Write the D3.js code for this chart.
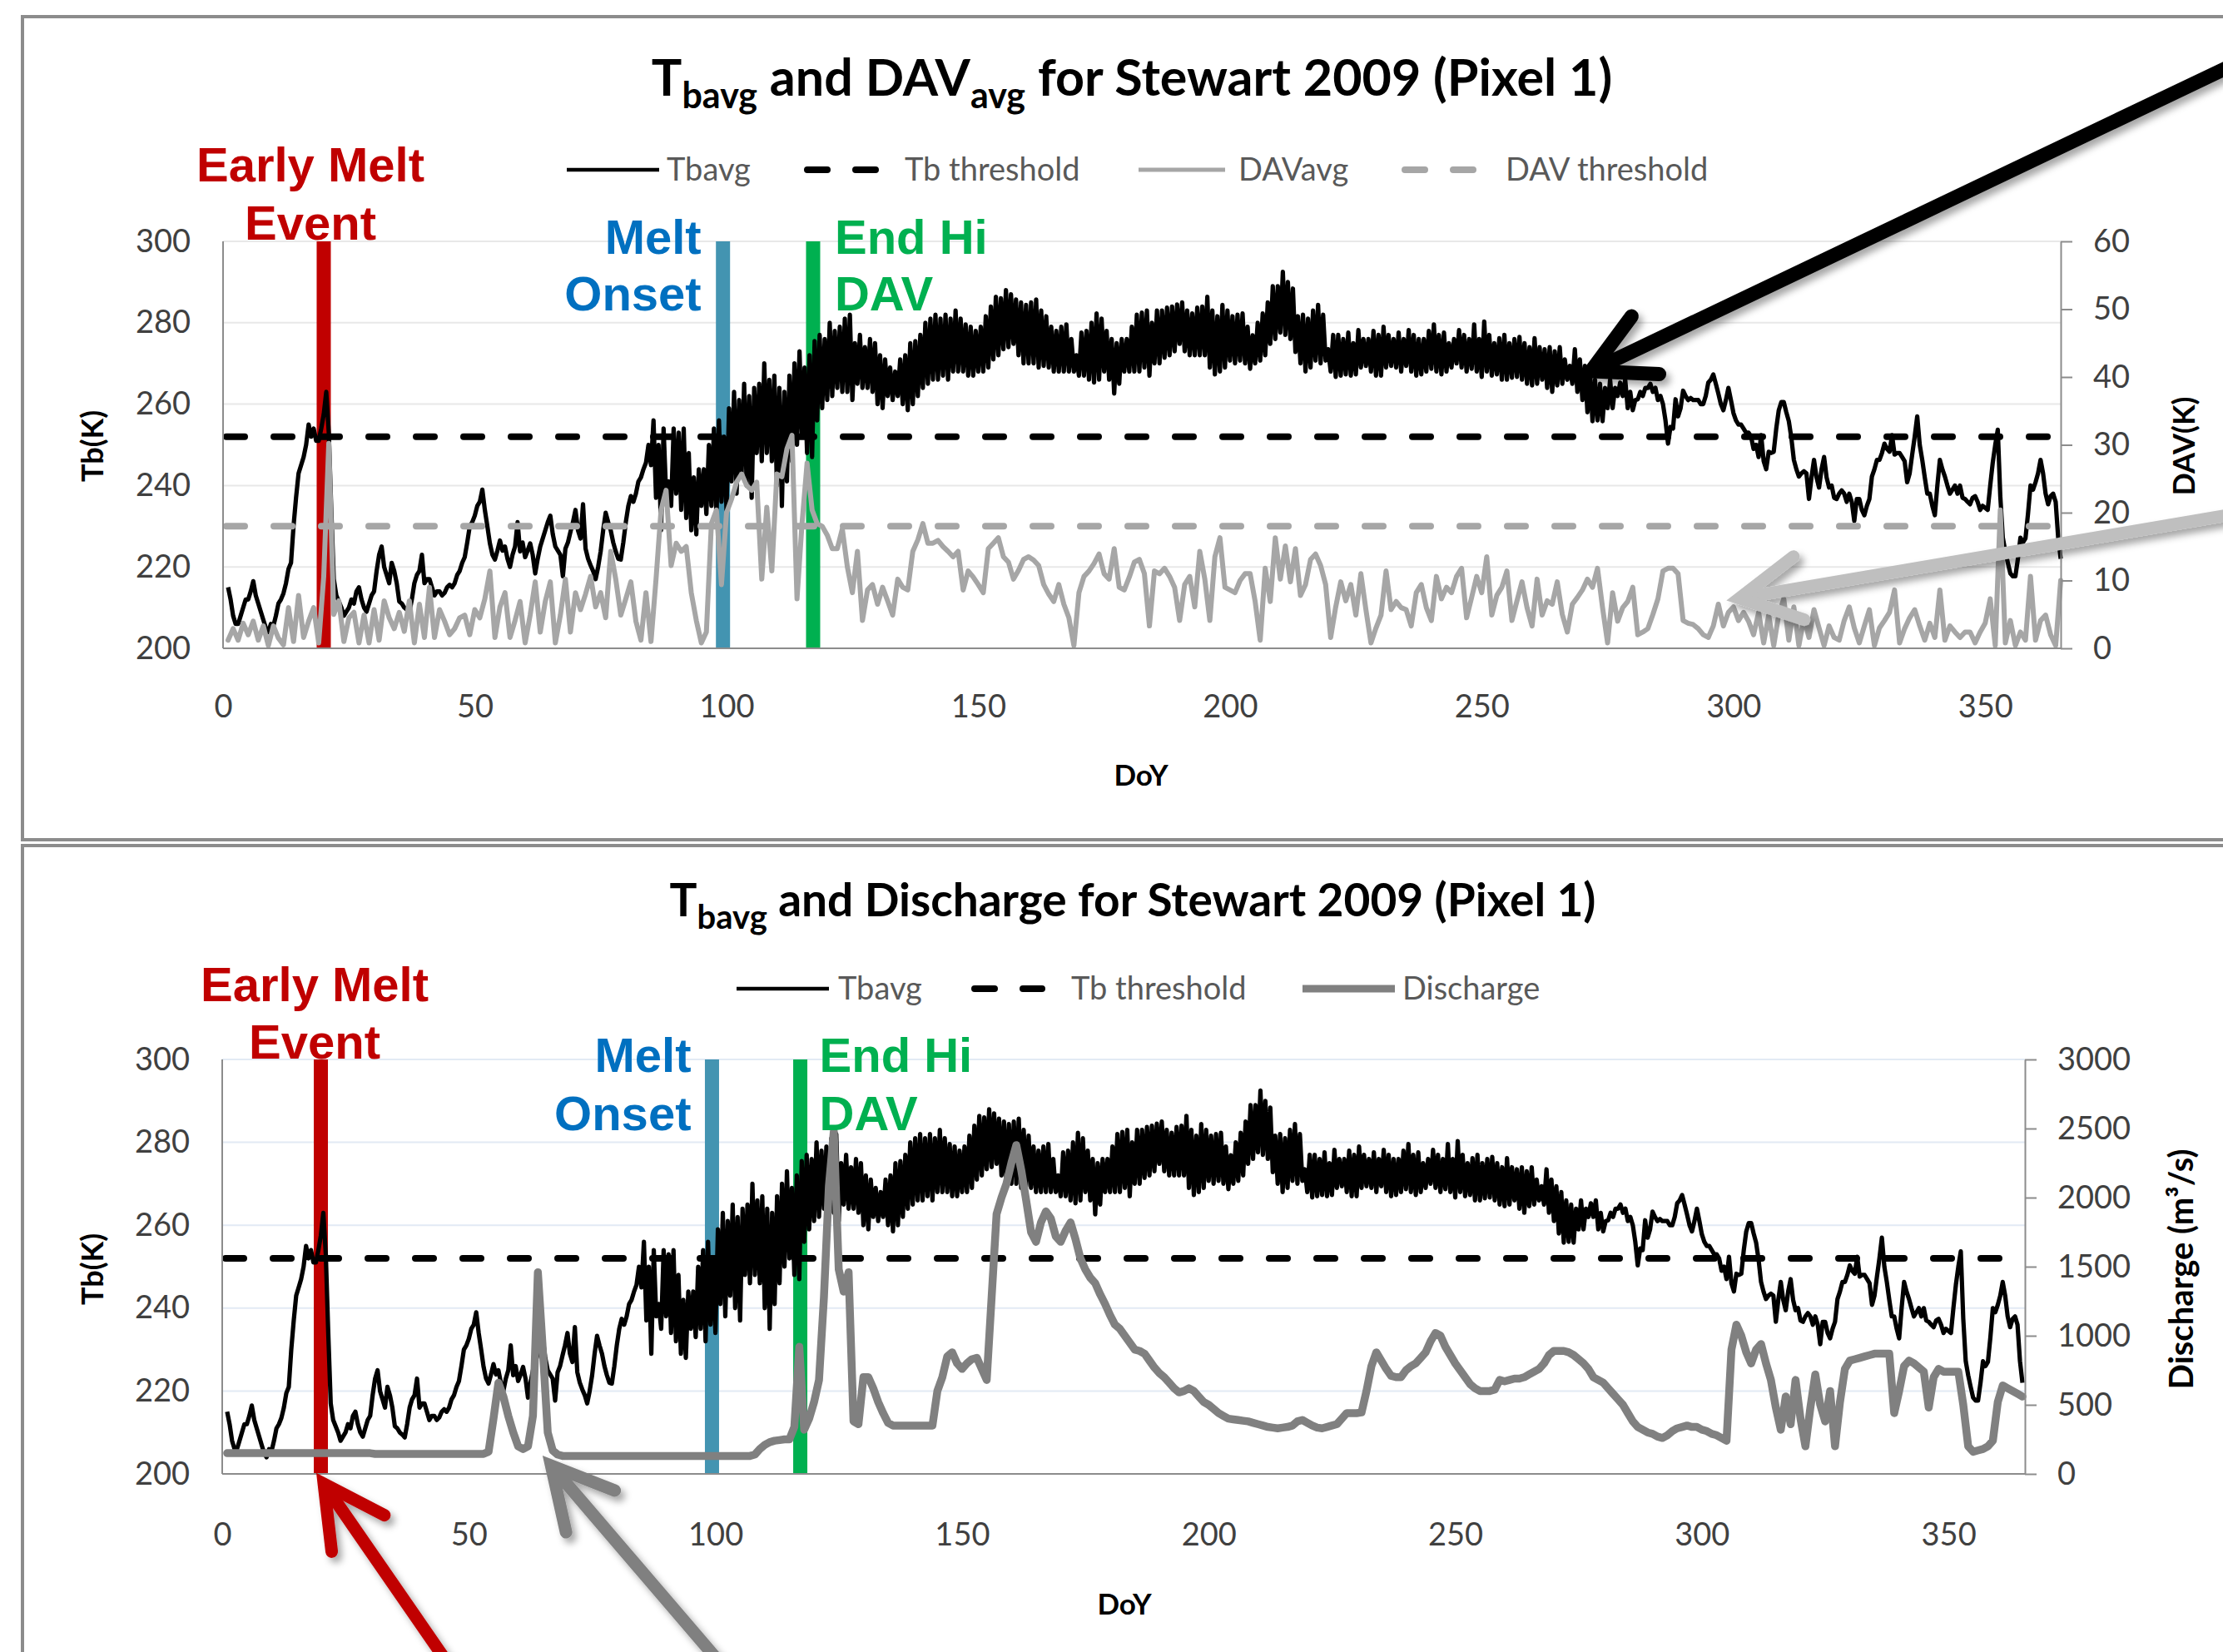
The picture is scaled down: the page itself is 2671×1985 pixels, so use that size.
<!DOCTYPE html>
<html>
<head>
<meta charset="utf-8">
<script src="https://cdn.jsdelivr.net/npm/d3@7"></script>
<style>
html,body{margin:0;padding:0;background:#fff;}
svg{display:block;}
</style>
</head>
<body>
<svg id="chart" width="2671" height="1985"></svg>
<script>
// ---------------- DATA ----------------
// Tb average, morning pass (DoY 1..365)
const tbAsc = [
215,208,206,210,212,216.5,211,207,204,205.5,
211,213.5,219.5,230,243,247,255,254,251,257.5,
253,217,211.5,208,210,211,215,210,211,214,
223,220,216,219,211.5,210,208.8,216,219,216,
217,213,214,213.6,215.6,216,219,222.4,230,232.6,
236,234,225.8,221.8,226.5,225,220,225,223.8,222.4,
225.8,218.4,225,229,232.6,225,223,224.5,228.6,234,
227,224.5,220.4,217,223.8,233.3,229,223.8,221.8,231,
237.4,238,242,245.6,245,237,229,238,235,238,
234,232,229,228,235,233,235,232,236,234,
241,238,243,240,237,248,246,248,246,240,
235,241,246,250,252,248,247,256,259,261,
262,264,263,263,261,265,264,264,263,260,
259,262,261,262,260,258.5,260,262,264,265,
266,266,267,266,268,268,268,267,267,268,
268,269,271,272,273.5,274,274.8,272,270,270,
270,269,269.4,269,268,268,268,268,268,267,
267,266,265.3,266,268,266,262.6,265,268,268,
268,268,269,267,270,270,271.4,272,273,274.8,
273,272,272,272,272,269,267.3,268,269,270.7,
270,270.7,270,268.7,270,270.7,272,274.8,276,277.6,
277,276,272.8,270,268,269,270.7,270,270.7,268,
266.7,267,267.3,267,267.3,269,269.4,268,267,267,
269,269.4,269,268,269.4,268,267,267.3,268,268.7,
268,267.3,268,269,270,269,268,268.7,268,266.7,
268,267,267.3,266,266,266.5,266.7,266,265,264.6,
265,266,264,263,264.6,265,266,265,263,261,
258,255.8,256,255.8,259,259,262,262,259,258.5,
261.2,262,264,263,261,260,250.3,254,257,263.3,
261,261,261,260,265.3,267.3,262.6,258.5,264,257.8,
255,254,253,249,247,246,248.3,248.3,258.5,260.5,
255.8,246.3,242.2,243.5,236.7,246.3,239.5,247,239.5,237,
238,238,238,231.3,236.7,232.7,236.7,244,246.3,250.3,
248.3,247.6,248,246,243,252,250,242,238,232.7,
246.3,242.2,238,240,240,236.7,235.4,237.4,234,234.5,
240,250,237.4,223.8,218.4,217.7,227.2,227,240,240.8,
246.3,238,237.4,236,222
];
// Tb average, afternoon pass (DoY 1.5..364.5)
const tbDsc = [
212,206,208,212,214,213,209,205,206,208,
212,216,221,237,245,250,252,251,254,263,
234,213,210,209,212,214,212,209,213,219,
225,218,221,216,211,209.5,212,218,223,217,
215,214,213,215,215,218,221,226,231,235,
239,230,223,224,224,222,223,231,226,224,
223,222,227,231,228,224,217.7,226,231,229,
235.4,222,219,220,229,231,226,222,226,235,
236,241,244,250,256,250,254,241,254,253,
254,248,242,244,244,250,254,256,252,259,
263,261,265,262,264,265,270,266,267,264,
263,267,270,273,269,272,275.5,277,276,280,
278,279,281,282,275,277,274,276,275,272,
271,269,268,271,272,275,275.5,277,280,281,
282,281,282,281,283,281,279.6,279,278,279,
281.6,284,286.4,286,288,287,285.7,285,284.4,285,
285.7,283,281.6,279,278,279,279.6,276,272,277.6,
278,280,282.3,281,278,276,275,276,276,279,
282,282.5,283,280,283,283,283.7,284,284.5,285,
283,282.3,283.7,284,286.4,283,281.6,284.4,283,281.6,
282,282.3,279,276.9,280,282.3,285,289,289,292.5,
290,288.4,281.6,282,281,283,284.4,282,273.5,277,
277,276,277.6,275,278.2,276,276,278,277,279,
277,276,277.6,276,278.2,277,276,276,278,279.6,
277,277.6,275,276,278.2,277,276,279.6,276,280.3,
277,275,276.2,277,275,276,276.5,275,274,276.2,
274,273.5,274,273,274,271,269.4,273.5,271,269.4,
268,266,265,264,266,264,265.3,266,263,261,
263,264,265,264,262,256,254.4,261.2,259,262,
261.5,261,260,262,266,265,260,261,261,256,
255,253,252,250,252.4,244,248,254,260.5,258,
251.7,244,243,243,242,242,244,242,240,236.7,
238.8,236,236,236.7,234,235,242.2,246.3,248,249,
252.4,248,247,240.8,247.6,257,246.3,238,235,240,
244,240,239,238,237,236,237,236,235,234,
245.6,253.7,227.2,221,217.7,222,226,233,239,243,
243,235.4,238,227.2
];
// DAV average (K), DoY 1..365
const davAvg = [
1.2,2.9,1.2,3.7,2,4,1.2,3.3,0.4,3.3,
1.5,0.5,6,1,7.8,1.6,4,6,0.8,10.6,
30.2,5,7,1,4.5,5.3,0.8,4.9,0.8,5.7,
1.2,7,4.5,2.9,5.3,2.5,7,0.8,6.5,1.6,
9,1.6,5.7,4,2,2.9,4.5,4.9,2,5.7,
4.5,7.3,11.4,1.6,6.1,8.2,1.6,4.1,6.9,0.8,
4.9,9.8,2.4,6.9,9.8,0.8,4.9,10.2,2.4,8.2,
5.7,8,10.6,6.1,8.2,4.5,14.3,10.2,4.9,7.3,
9.8,4,1.2,8.2,1,10.2,20.4,23.3,12.2,15.5,
14.3,15,8.2,4.1,0.8,2.4,18.4,20.4,9.4,20,
22,24.5,25.7,24,23.3,24.5,10.2,20.8,11.4,25.7,
25.3,29.4,31.4,7.3,18.4,27.3,20.4,18.4,18,16.7,
14.7,14.7,17.6,12,8.2,14.3,4.1,8.6,9.4,6.5,
9,7,4.9,10.2,9,8.6,14.3,16,18.4,15.5,
15.5,15.9,15,14.3,13.5,14.3,8.6,11.4,10.5,9.4,
8.2,14.7,15.5,16.3,13.5,12.7,10.2,11.5,13.1,13.5,
13,12.2,9.4,8,6.9,9.4,6.5,4.5,0.4,8.2,
10.6,11.4,12.5,13.9,11,10.2,14.7,9,8.6,10.5,
12.7,13.1,11,3.3,11.4,11,11.8,10.6,9,4.1,
9.4,10.6,6.1,14.3,10.2,4.1,13.5,16.3,9,8.6,
8.2,10,11,11,6.9,1.2,11.8,6.9,16.3,10.2,
15.1,9.8,14.7,7.8,9.4,13.1,13.9,12.2,9.4,1.6,
6.1,9.8,7,9.4,4.9,11,5.7,0.8,3,4.9,
11.4,5.7,6.9,6,5.7,3.3,8.2,9.4,6,4.1,
10.6,7.3,9,8.2,10.6,11.8,4.5,7.5,10.6,8.2,
13.5,4.9,7.8,9,11.4,4.1,7,9.8,6,3.3,
10.2,4.9,7,6.5,9.8,5,2.4,6.5,7.5,8.6,
10.2,9,11.8,6,0.8,8.2,4,6,6.9,9,
2,2.4,2.9,5,7.3,11.4,11.8,11.8,11,4.1,
3.7,3.5,2.9,2,1.6,3.3,6.5,3.3,5.3,6.1,
4.1,5.3,4,2,5.3,0.8,4.9,0.4,5,7.3,
1.2,6.1,0.4,4.5,1.6,5.7,3,0.4,3.3,1.6,
1.2,4.1,6.1,3,0.8,3.3,5.7,0.4,3,4.1,
5.3,8.6,0.8,2.9,4.5,5.7,3.3,1.2,3.7,1.6,
8.6,1.2,3.3,2.4,1.6,2.4,2.4,0.8,2.4,3.7,
7.3,0.4,20.4,0.8,4.1,0.4,2.4,1.2,10.6,1.2,
4.1,4.9,2,0.4,10
];
// Discharge (m3/s), DoY 1..365
const discharge = [
150,150,150,150,150,150,150,150,150,150,
150,150,150,150,150,150,150,150,150,150,
150,150,150,150,150,150,150,150,150,150,
145,145,145,145,145,145,145,145,145,145,
145,145,145,145,145,145,145,145,145,145,
145,145,145,160,400,660,560,420,300,200,
180,200,420,1460,900,300,170,140,130,130,
130,130,130,130,130,130,130,130,130,130,
130,130,130,130,130,130,130,130,130,130,
130,130,130,130,130,130,130,130,130,130,
130,130,130,130,130,130,130,140,180,210,
230,240,245,250,250,340,920,320,400,520,
680,1280,2080,2480,1480,1320,1460,380,360,700,
700,620,520,440,370,350,350,350,350,350,
350,350,350,350,600,700,850,880,800,760,
800,830,840,760,680,1280,1880,2000,2100,2250,
2380,2200,1980,1750,1680,1820,1900,1850,1720,1680,
1760,1820,1700,1560,1480,1420,1380,1300,1230,1150,
1080,1050,1000,950,900,890,870,820,770,730,
700,660,620,590,600,620,600,560,520,500,
470,440,420,400,395,390,385,380,370,360,
350,340,335,330,335,340,350,380,390,370,
350,335,330,340,350,360,400,440,440,440,
445,600,780,880,820,760,710,700,700,750,
780,800,840,880,960,1020,1000,920,860,800,
750,700,650,620,600,600,600,610,680,670,
680,690,690,700,720,740,760,800,860,890,
890,890,880,860,830,800,760,700,680,660,
620,580,540,500,440,380,340,320,300,290,
270,260,280,310,330,340,350,340,340,320,
310,290,280,260,240,900,1080,1000,880,800,
900,940,800,680,480,320,560,360,680,400,
200,480,720,500,380,600,200,520,760,820,
830,840,850,860,870,870,870,870,440,600,
780,820,800,770,740,480,700,760,740,740,
740,740,500,200,160,170,180,200,240,520,
640,620,600,580,560
];
const tbThreshold = 252;
const davThreshold = 18;
const eventDoY = [20, 99.3, 117.2];
const eventLabels = [["Early Melt","Event"],["Melt","Onset"],["End Hi","DAV"]];
const doyTicks = [0,50,100,150,200,250,300,350];
const tbTicks = [200,220,240,260,280,300];
const davTicks = [0,10,20,30,40,50,60];
const dischargeTicks = [0,500,1000,1500,2000,2500,3000];

// ---------------- DRAW ----------------
const FONT = "Lato, 'Open Sans', sans-serif";
const AFONT = "'Liberation Sans', Arial, sans-serif";
const svg = d3.select('#chart');
const defs = svg.append('defs');
defs.append('filter').attr('id','shadow').attr('x','-50%').attr('y','-50%').attr('width','200%').attr('height','200%')
  .append('feDropShadow').attr('dx',5).attr('dy',6).attr('stdDeviation',4)
  .attr('flood-color','#000').attr('flood-opacity',0.35);

// panel frames
svg.append('path').attr('d','M2671,20 H27 V1009 H2671').attr('fill','none').attr('stroke','#8c8c8c').attr('stroke-width',4);
svg.append('path').attr('d','M2671,1016 H27 V1985').attr('fill','none').attr('stroke','#8c8c8c').attr('stroke-width',4);

const tbPts = [];
tbAsc.forEach((v,i)=>{ tbPts.push([i+1, v]); if (tbDsc[i] != null) tbPts.push([i+1.5, tbDsc[i]]); });
const davPts = davAvg.map((v,i)=>[i+1, v]);
const qPts = discharge.map((v,i)=>[i+1, v]);

const eventColors = ['#c00000','#4394b1','#00b050'];
const labelColors = ['#c00000','#0070c0','#00b050'];

function arrow(g, x, y, tip, tail, color, width) {
  const tx = x(tip[0]), ty = y(tip[1]), ex = x(tail[0]), ey = y(tail[1]);
  const ang = Math.atan2(ey - ty, ex - tx);
  const L = 82, a = 28 * Math.PI / 180;
  const w1 = [tx + L*Math.cos(ang + a), ty + L*Math.sin(ang + a)];
  const w2 = [tx + L*Math.cos(ang - a), ty + L*Math.sin(ang - a)];
  const ag = g.append('g').attr('filter','url(#shadow)');
  ag.append('line').attr('x1', ex).attr('y1', ey).attr('x2', tx + 6*Math.cos(ang)).attr('y2', ty + 6*Math.sin(ang))
    .attr('stroke', color).attr('stroke-width', width).attr('stroke-linecap','round');
  ag.append('path').attr('d', `M${w1[0]},${w1[1]} L${tx},${ty} L${w2[0]},${w2[1]}`)
    .attr('fill','none').attr('stroke', color).attr('stroke-width', width)
    .attr('stroke-linejoin','miter').attr('stroke-linecap','round');
}

function panel(o) {
  const g = svg.append('g');
  const x = d3.scaleLinear().domain([0, o.xMax]).range([o.left, o.right]);
  const yL = d3.scaleLinear().domain([200, 300]).range([o.bottom, o.top]);
  const yR = d3.scaleLinear().domain(o.rightDomain).range([o.bottom, o.top]);

  // gridlines
  g.selectAll('line.grid').data(tbTicks.filter(d=>d>200)).join('line').attr('class','grid')
    .attr('x1', o.left).attr('x2', o.right).attr('y1', d=>yL(d)).attr('y2', d=>yL(d))
    .attr('stroke', o.gridColor).attr('stroke-width', 2);

  // event bars
  g.selectAll('rect.ev').data(eventDoY).join('rect').attr('class','ev')
    .attr('x', d=>x(d)-8.5).attr('width',17).attr('y', o.top).attr('height', o.bottom - o.top)
    .attr('fill', (d,i)=>eventColors[i]);

  // Tb line
  const lineL = d3.line().x(d=>x(d[0])).y(d=>yL(d[1]));
  const lineR = d3.line().x(d=>x(d[0])).y(d=>yR(d[1]));
  g.append('path').datum(tbPts).attr('d', lineL).attr('fill','none').attr('stroke','#000')
    .attr('stroke-width',5.2).attr('stroke-linejoin','round');
  // Tb threshold
  g.append('line').attr('x1', x(0)+4).attr('x2', x(365)).attr('y1', yL(tbThreshold)).attr('y2', yL(tbThreshold))
    .attr('stroke','#000').attr('stroke-width',8).attr('stroke-dasharray','22,35').attr('stroke-linecap','round');
  // right series
  g.append('path').datum(o.rightPts).attr('d', lineR).attr('fill','none').attr('stroke', o.rightColor)
    .attr('stroke-width', o.rightWidth).attr('stroke-linejoin','round').attr('stroke-linecap','round');
  if (o.rightThreshold != null) {
    g.append('line').attr('x1', x(0)+4).attr('x2', x(365)).attr('y1', yR(o.rightThreshold)).attr('y2', yR(o.rightThreshold))
      .attr('stroke', o.rightColor).attr('stroke-width',8).attr('stroke-dasharray','22,35').attr('stroke-linecap','round');
  }

  // axis lines
  g.append('line').attr('x1', o.left).attr('x2', o.left).attr('y1', o.top).attr('y2', o.bottom)
    .attr('stroke','#8c8c8c').attr('stroke-width',2);
  g.append('line').attr('x1', o.left).attr('x2', o.right).attr('y1', o.bottom).attr('y2', o.bottom)
    .attr('stroke','#8c8c8c').attr('stroke-width',2);

  const gl = g.append('g').attr('transform',`translate(${o.left},0)`)
    .call(d3.axisLeft(yL).tickValues(tbTicks).tickSize(0).tickPadding(39));
  gl.select('.domain').remove();
  const gb = g.append('g').attr('transform',`translate(0,${o.bottom})`)
    .call(d3.axisBottom(x).tickValues(doyTicks).tickSize(0).tickPadding(o.xPad));
  gb.select('.domain').remove();
  const gr = g.append('g').attr('transform',`translate(${o.right},0)`)
    .call(d3.axisRight(yR).tickValues(o.rightTicks).tickSizeInner(14).tickSizeOuter(0).tickPadding(25).tickFormat(d3.format('d')));
  gr.select('.domain').attr('stroke','#8c8c8c').attr('stroke-width',2);
  gr.selectAll('.tick line').attr('stroke','#8c8c8c').attr('stroke-width',2);
  [gl, gb, gr].forEach(a => a.selectAll('text').attr('font-family', FONT).attr('font-size', 38).attr('fill','#404040'));

  // axis titles
  g.append('text').attr('x', o.doyX).attr('y', o.doyY).attr('text-anchor','middle')
    .attr('font-family', FONT).attr('font-weight', 700).attr('font-size', 35).attr('fill','#000').text('DoY');
  g.append('text').attr('transform', `translate(${o.tbLabelX},${o.midY}) rotate(-90)`).attr('text-anchor','middle')
    .attr('font-family', FONT).attr('font-weight', 700).attr('font-size', 36).attr('fill','#000').text('Tb(K)');
  g.append('text').attr('transform', `translate(${o.rLabelX},${o.midY}) rotate(-90)`).attr('text-anchor','middle')
    .attr('font-family', FONT).attr('font-weight', 700).attr('font-size', o.rLabelSize).attr('fill','#000').text(o.rightLabel);

  // title
  const t = g.append('text').attr('x', o.titleX).attr('y', o.titleY).attr('text-anchor','middle')
    .attr('font-family', FONT).attr('font-weight', 700).attr('font-size', o.titleSize).attr('fill','#000');
  let shift = 0;
  o.title.forEach(([s, sub]) => {
    const dy = sub ? 15 - shift : -shift;
    shift = sub ? 15 : 0;
    t.append('tspan').attr('dy', dy).attr('font-size', sub ? o.subSize : o.titleSize).text(s);
  });

  // legend
  o.legend.forEach(it => {
    const l = g.append('line').attr('x1', it.x1).attr('x2', it.x2).attr('y1', o.legendY).attr('y2', o.legendY)
      .attr('stroke', it.color).attr('stroke-width', it.w).attr('stroke-linecap', it.dash ? 'round' : 'butt');
    if (it.dash) l.attr('stroke-dasharray', '24,34');
    g.append('text').attr('x', it.tx).attr('y', o.legendY + 13).attr('font-family', FONT).attr('font-size', 38)
      .attr('fill','#595959').text(it.label);
  });

  // event annotations
  const A = (txt, xx, yy, anchor, col) => g.append('text').attr('x', xx).attr('y', yy).attr('text-anchor', anchor)
    .attr('font-family', AFONT).attr('font-weight', 700).attr('font-size', 58).attr('fill', col).text(txt);
  A(eventLabels[0][0], x(eventDoY[0]) + o.ann[0], o.annY[0], 'middle', labelColors[0]);
  A(eventLabels[0][1], x(eventDoY[0]) + o.ann[0], o.annY[1], 'middle', labelColors[0]);
  A(eventLabels[1][0], x(eventDoY[1]) + o.ann[1], o.annY[2], 'end', labelColors[1]);
  A(eventLabels[1][1], x(eventDoY[1]) + o.ann[1], o.annY[3], 'end', labelColors[1]);
  A(eventLabels[2][0], x(eventDoY[2]) + o.ann[2], o.annY[2], 'start', labelColors[2]);
  A(eventLabels[2][1], x(eventDoY[2]) + o.ann[2], o.annY[3], 'start', labelColors[2]);

  o.arrows.forEach(ar => arrow(g, x, yL, ar.tip, ar.tail, ar.color, ar.w));
}

panel({
  left: 268, right: 2476, top: 290, bottom: 779, xMax: 365,
  rightDomain: [0, 60], rightTicks: davTicks, rightPts: davPts, rightColor: '#a6a6a6', rightWidth: 6,
  rightThreshold: davThreshold, rightLabel: 'DAV(K)', rLabelSize: 36,
  gridColor: '#e8e8e8', xPad: 56, doyX: 1371, doyY: 944, tbLabelX: 124, rLabelX: 2637, midY: 536,
  title: [['T',0],['bavg',1],[' and DAV',0],['avg',1],[' for Stewart 2009 (Pixel 1)',0]],
  titleX: 1360, titleY: 115, titleSize: 61, subSize: 43,
  legendY: 204,
  legend: [
    {x1: 681, x2: 792, tx: 801, color: '#000', w: 4.5, label: 'Tbavg'},
    {x1: 970, x2: 1052, tx: 1087, color: '#000', w: 8, dash: true, label: 'Tb threshold'},
    {x1: 1368, x2: 1472, tx: 1488, color: '#a6a6a6', w: 5, label: 'DAVavg'},
    {x1: 1688, x2: 1772, tx: 1809, color: '#a6a6a6', w: 8, dash: true, label: 'DAV threshold'}
  ],
  ann: [-16, -26, 26], annY: [218, 288, 305, 373],
  arrows: [
    {tip: [271.7, 268.1], tail: [402, 345], color: '#000', w: 17},
    {tip: [301.2, 212.3], tail: [402, 233.5], color: '#bfbfbf', w: 15}
  ]
});

panel({
  left: 267, right: 2433, top: 1273, bottom: 1771, xMax: 365.5,
  rightDomain: [0, 3000], rightTicks: dischargeTicks, rightPts: qPts, rightColor: '#808080', rightWidth: 9.5,
  rightThreshold: null, rightLabel: 'Discharge (m³/s)', rLabelSize: 40,
  gridColor: '#e2eaf4', xPad: 59, doyX: 1351, doyY: 1940, tbLabelX: 124, rLabelX: 2635, midY: 1525,
  title: [['T',0],['bavg',1],[' and Discharge for Stewart 2009 (Pixel 1)',0]],
  titleX: 1361, titleY: 1101, titleSize: 55, subSize: 40,
  legendY: 1188,
  legend: [
    {x1: 885, x2: 996, tx: 1007, color: '#000', w: 4.5, label: 'Tbavg'},
    {x1: 1171, x2: 1252, tx: 1287, color: '#000', w: 8, dash: true, label: 'Tb threshold'},
    {x1: 1565, x2: 1676, tx: 1685, color: '#808080', w: 9, label: 'Discharge'}
  ],
  ann: [-7.5, -25, 23], annY: [1203, 1272, 1288, 1358],
  arrows: [
    {tip: [20.6, 197.6], tail: [49.4, 148], color: '#c00000', w: 15},
    {tip: [66.7, 202.0], tail: [103.4, 151], color: '#808080', w: 15}
  ]
});
</script>
</body>
</html>
